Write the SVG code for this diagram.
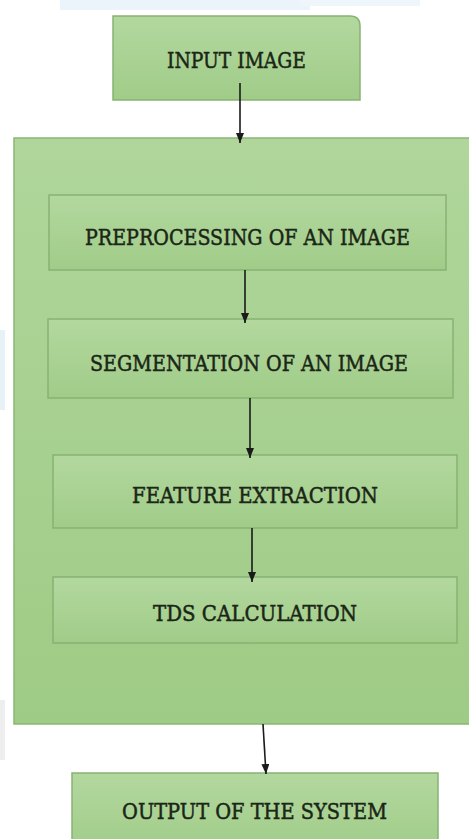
<svg xmlns="http://www.w3.org/2000/svg" width="469" height="839" viewBox="0 0 469 839">
<defs>
<linearGradient id="g" x1="0" y1="0" x2="0" y2="1">
<stop offset="0" stop-color="#b3d89f"/>
<stop offset="1" stop-color="#a0cc88"/>
</linearGradient>
<linearGradient id="gc" x1="0" y1="0" x2="0" y2="1">
<stop offset="0" stop-color="#b0d69b"/>
<stop offset="1" stop-color="#9ecb85"/>
</linearGradient>
<marker id="ah" viewBox="0 0 10 8" refX="10" refY="4" markerWidth="10" markerHeight="8" markerUnits="userSpaceOnUse" orient="auto">
<path d="M0,0 L10,4 L0,8 Z" fill="#1a1a1a"/>
</marker>
<style>
.box{fill:url(#g);stroke:#86b373;stroke-width:1.5}
.cont{fill:url(#gc);stroke:#8ab676;stroke-width:1.5}
.t{font-family:"DejaVu Serif",serif;font-size:22px;fill:#1a2616;stroke:#1a2616;stroke-width:0.5}
.c{stroke:#1a1a1a;stroke-width:1.6;fill:none}
</style>
</defs>
<rect width="469" height="839" fill="#ffffff"/>
<rect x="60" y="0" width="250" height="10" fill="#eaf4fa"/>
<rect x="300" y="0" width="120" height="6" fill="#eef6fb"/>
<rect x="0" y="330" width="5" height="80" fill="#e6f1f8"/>
<rect x="0" y="700" width="5" height="60" fill="#eeeeee"/>
<g id="input">
<path class="box" d="M113,16 H350 Q360,16 360,26 V100 H113 Z"/>
<text class="t" x="167" y="68" textLength="139" lengthAdjust="spacingAndGlyphs">INPUT IMAGE</text>
</g>
<g id="container">
<rect class="cont" x="14" y="138" width="460" height="586"/>
</g>
<g id="preprocessing">
<rect class="box" x="49" y="195" width="397" height="75"/>
<text class="t" x="85" y="245" textLength="325" lengthAdjust="spacingAndGlyphs">PREPROCESSING OF AN IMAGE</text>
</g>
<g id="segmentation">
<rect class="box" x="48" y="319" width="405" height="79"/>
<text class="t" x="90" y="371" textLength="318" lengthAdjust="spacingAndGlyphs">SEGMENTATION OF AN IMAGE</text>
</g>
<g id="feature">
<rect class="box" x="53" y="455" width="404" height="73"/>
<text class="t" x="132" y="503" textLength="246" lengthAdjust="spacingAndGlyphs">FEATURE EXTRACTION</text>
</g>
<g id="tds">
<rect class="box" x="53" y="577" width="404" height="66"/>
<text class="t" x="153" y="621" textLength="204" lengthAdjust="spacingAndGlyphs">TDS CALCULATION</text>
</g>
<g id="output">
<rect class="box" x="72" y="773" width="366" height="80"/>
<text class="t" x="122" y="819" textLength="265" lengthAdjust="spacingAndGlyphs">OUTPUT OF THE SYSTEM</text>
</g>
<g id="connectors">
<line class="c" x1="240" y1="83" x2="240" y2="143" marker-end="url(#ah)"/>
<line class="c" x1="245" y1="270" x2="245" y2="323" marker-end="url(#ah)"/>
<line class="c" x1="250" y1="398" x2="250" y2="458" marker-end="url(#ah)"/>
<line class="c" x1="252" y1="528" x2="252" y2="582" marker-end="url(#ah)"/>
<line class="c" x1="263" y1="724" x2="266" y2="774" marker-end="url(#ah)"/>
</g>
</svg>
